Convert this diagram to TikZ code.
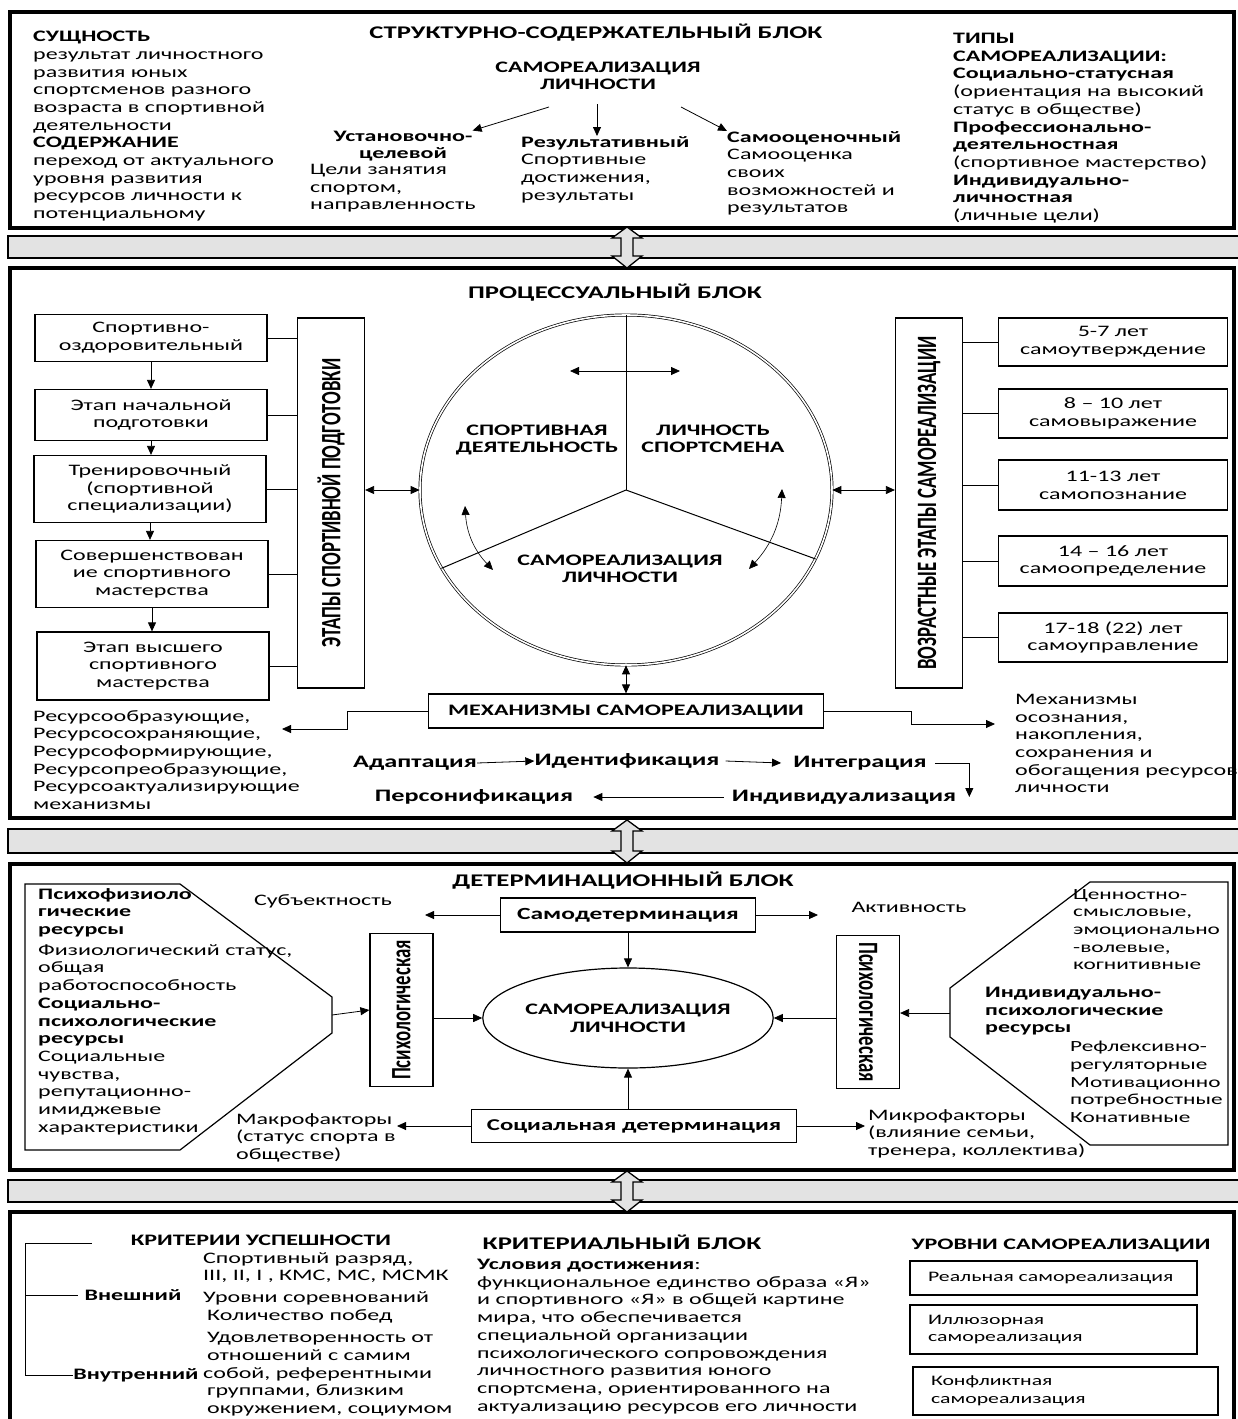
\documentclass[tikz,border=0pt]{standalone}
\usepackage{fontspec}
\setmainfont{Carlito}[FakeStretch=1.5]
\newfontfamily\rotfont{Carlito}[FakeStretch=0.67]
\usetikzlibrary{shapes.geometric,arrows.meta,calc}

\begin{document}
\begin{tikzpicture}
[
    x=1pt, y=-1pt,
    block/.style={draw, line width=3.5pt},
    bar/.style={draw, line width=1.3pt, fill=black!11},
    common/.style={shape=rectangle, draw, line width=1.2pt, align=center, inner sep=0pt, font=\fontsize{16}{17.8}\selectfont},
    upright/.style={common, minimum width=370, minimum height=67, font=\rotfont\fontsize{28}{30}\selectfont\bfseries},
    level/.style={common, align=left, inner xsep=18pt, font=\fontsize{14.5}{17.6}\selectfont},
    plain/.style={align=left, inner sep=0pt, anchor=north west, font=\fontsize{16}{17.7}\selectfont},
    heading/.style={align=center, inner sep=0pt, font=\fontsize{17.8}{17.6}\selectfont\bfseries},
    sub/.style={align=center, inner sep=0pt, font=\fontsize{16}{17.6}\selectfont\bfseries},
    chain/.style={sub, font=\fontsize{17.5}{20}\selectfont\bfseries},
    link/.style={-{Triangle[length=9pt,width=8pt]}, line width=0.8pt},
    both/.style={{Triangle[length=9pt,width=8pt]}-{Triangle[length=9pt,width=8pt]}, line width=0.8pt},
]
\useasboundingbox (0,0) rectangle (1237,1419);

% four blocks
\draw[block] (10,12) rectangle (1234,228);
\draw[block] (10,268) rectangle (1234,818);
\draw[block] (10,864) rectangle (1234,1170);
\draw[block] (10,1212) rectangle (1234,1440);

% structural block
\node[plain] (essence) at (33,31) {\textbf{СУЩНОСТЬ}\\результат личностного\\развития юных\\спортсменов разного\\возраста в спортивной\\деятельности\\\textbf{СОДЕРЖАНИЕ}\\переход от актуального\\уровня развития\\ресурсов личности к\\потенциальному};
\node[heading] (t1) at (596,33) {СТРУКТУРНО-СОДЕРЖАТЕЛЬНЫЙ БЛОК};
\node[sub] (sr1) at (598,76) {САМОРЕАЛИЗАЦИЯ\\ЛИЧНОСТИ};
\node[sub] (goalh) at (403,146) {Установочно-\\целевой};
\node[plain] (goalt) at (310,164) {Цели занятия\\спортом,\\направленность};
\node[plain] (res) at (521,136) {\textbf{Результативный}\\Спортивные\\достижения,\\результаты};
\node[plain] (self) at (727,131) {\textbf{Самооценочный}\\Самооценка\\своих\\возможностей и\\результатов};
\node[plain] (types) at (953,33) {\textbf{ТИПЫ}\\\textbf{САМОРЕАЛИЗАЦИИ:}\\\textbf{Социально-статусная}\\(ориентация на высокий\\статус в обществе)\\\textbf{Профессионально-}\\\textbf{деятельностная}\\(спортивное мастерство)\\\textbf{Индивидуально-}\\\textbf{личностная}\\(личные цели)};
\coordinate (u1) at (549,107);
\coordinate (u2) at (597,104);
\coordinate (u3) at (681,107);
\draw[link] (u1) -- (goalh.north east);
\draw[link] (u2) -- (u2 |- res.north);
\draw[link] (u3) -- (self.north west);

% process block
\node[heading] (t2) at (615,293) {ПРОЦЕССУАЛЬНЫЙ БЛОК};
\node[common, minimum width=232, minimum height=47] (s1) at (151,338) {Спортивно-\\оздоровительный};
\node[common, minimum width=232, minimum height=51] (s2) at (151,415) {Этап начальной\\подготовки};
\node[common, minimum width=232, minimum height=67] (s3) at (150,489) {Тренировочный\\(спортивной\\специализации)};
\node[common, minimum width=232, minimum height=67] (s4) at (152,574) {Совершенствован\\ие спортивного\\мастерства};
\node[common, minimum width=232, minimum height=68] (s5) at (153,666) {Этап высшего\\спортивного\\мастерства};
\node[upright, rotate=90] (prep) at (331,503) {ЭТАПЫ СПОРТИВНОЙ ПОДГОТОВКИ};
\foreach \a/\b in {s1/s2,s2/s3,s3/s4,s4/s5}
    \draw[link] (\a.south) -- (\a.south |- \b.north);
\foreach \a in {s1,s2,s3,s4,s5}
    \draw[line width=0.8pt] (\a.east) -- (\a.east -| prep.north);

\node[draw, ellipse, double, double distance=1.6pt, line width=0.7pt, minimum width=412, minimum height=350] (circ) at (626,490) {};
\draw[line width=1pt] (circ.center) -- (circ.north);
\draw[line width=1pt] (circ.center) -- (circ.203);
\draw[line width=1pt] (circ.center) -- (circ.340);
\node[sub] (sport) at (537,440) {СПОРТИВНАЯ\\ДЕЯТЕЛЬНОСТЬ};
\node[sub] (pers) at (713,439) {ЛИЧНОСТЬ\\СПОРТСМЕНА};
\node[sub] (srl) at (620,569) {САМОРЕАЛИЗАЦИЯ\\ЛИЧНОСТИ};
\coordinate (ct1) at (570,371);
\coordinate (ct2) at (680,371);
\coordinate (cl1) at (465,506);
\coordinate (cl2) at (493,570);
\coordinate (cr1) at (782,489);
\coordinate (cr2) at (749,569);
\draw[both] (ct1) -- (ct2);
\draw[both, line width=0.6pt] (cl1) to[bend right=20] (cl2);
\draw[both, line width=0.6pt] (cr1) to[bend left=20] (cr2);
\draw[both] (prep.south |- circ.west) -- (circ.west);

\node[upright, rotate=90] (ages) at (929,503) {ВОЗРАСТНЫЕ ЭТАПЫ САМОРЕАЛИЗАЦИИ};
\draw[both] (circ.east) -- (circ.east -| ages.north);
\node[common, minimum width=229, minimum height=48] (a1) at (1113,342) {5-7 лет\\самоутверждение};
\node[common, minimum width=229, minimum height=49] (a2) at (1113,413.5) {8 – 10 лет\\самовыражение};
\node[common, minimum width=229, minimum height=50] (a3) at (1113,485) {11-13 лет\\самопознание};
\node[common, minimum width=229, minimum height=50] (a4) at (1113,561) {14 – 16 лет\\самоопределение};
\node[common, minimum width=229, minimum height=49] (a5) at (1113,637.5) {17-18 (22) лет\\самоуправление};
\foreach \a in {a1,a2,a3,a4,a5}
    \draw[line width=0.8pt] (\a.west) -- (\a.west -| ages.south);

\node[common, minimum width=395, minimum height=34, font=\fontsize{16}{18}\selectfont\bfseries] (mech) at (626,711) {МЕХАНИЗМЫ САМОРЕАЛИЗАЦИИ};
\draw[both] (circ.south) -- (mech.north);
\node[plain] (rsrc) at (33,710) {Ресурсообразующие,\\Ресурсосохраняющие,\\Ресурсоформирующие,\\Ресурсопреобразующие,\\Ресурсоактуализирующие\\механизмы};
\node[plain] (mtext) at (1015,694) {Механизмы\\осознания,\\накопления,\\сохранения и\\обогащения ресурсов\\личности};
\coordinate (mleft) at (282,729);
\coordinate (mright) at (995,724);
\draw[link] (mech.west) -- ++(-81,0) |- (mleft);
\draw[link] (mech.east) -- ++(87,0) |- (mright);

\node[chain] (ad) at (415,763) {Адаптация};
\node[chain] (idf) at (627,761) {Идентификация};
\node[chain] (intg) at (860,763) {Интеграция};
\node[chain] (indv) at (844,797) {Индивидуализация};
\node[chain] (prs) at (474,797) {Персонификация};
\draw[link] (ad.east) -- (idf.west);
\draw[link] ([xshift=6pt]idf.east) -- ([xshift=-12pt]intg.west);
\draw[link] ([xshift=8pt]intg.east) -| ([xshift=13pt]indv.east);
\draw[link] ([xshift=-8pt]indv.west) -- ([xshift=20pt]prs.east);

% determination block
\node[heading] (t3) at (623,881) {ДЕТЕРМИНАЦИОННЫЙ БЛОК};
\draw[line width=1.2pt] (25,884) -- (180,884) -- (332,997) -- (332,1033) -- (180,1150) -- (25,1150) -- cycle;
\coordinate (lhex) at (332,1015);
\node[plain] (lres) at (38,888) {\textbf{Психофизиоло}\\\textbf{гические}\\\textbf{ресурсы}\\[3pt]Физиологический статус,\\общая\\работоспособность\\\textbf{Социально-}\\\textbf{психологические}\\\textbf{ресурсы}\\Социальные\\чувства,\\репутационно-\\имиджевые\\характеристики};
\draw[line width=1.2pt] (1090,882) -- (1228,882) -- (1228,1145) -- (1090,1145) -- (950,1037) -- (950,988) -- cycle;
\coordinate (rhex) at (950,1013);
\node[plain, font=\fontsize{15.5}{17.7}\selectfont] (rres1) at (1073,889) {Ценностно-\\смысловые,\\эмоционально\\-волевые,\\когнитивные};
\node[plain] (rres2) at (985,987) {\textbf{Индивидуально-}\\\textbf{психологические}\\\textbf{ресурсы}};
\node[plain, font=\fontsize{15.5}{17.7}\selectfont] (rres3) at (1070,1041) {Рефлексивно-\\регуляторные\\Мотивационно\\потребностные\\Конативные};

\node[upright, rotate=90, minimum width=153, minimum height=63] (psl) at (401.5,1010) {Психологическая};
\node[upright, rotate=-90, minimum width=153, minimum height=63] (psr) at (868,1012) {Психологическая};
\node[draw, ellipse, line width=1.2pt, minimum width=258, minimum height=100, sub] (core) at (628,1018) {САМОРЕАЛИЗАЦИЯ\\ЛИЧНОСТИ};
\node[common, minimum width=255, minimum height=34, font=\fontsize{17}{17.6}\selectfont\bfseries] (sd) at (628,915) {Самодетерминация};
\node[common, minimum width=325, minimum height=33, font=\fontsize{16.5}{17.6}\selectfont\bfseries] (sc) at (634,1126) {Социальная детерминация};
\node[plain, anchor=center] (subj) at (323,901) {Субъектность};
\node[plain, anchor=center] (act) at (909,907) {Активность};
\node[plain] (macro) at (236,1113) {Макрофакторы\\(статус спорта в\\обществе)};
\node[plain] (micro) at (868,1109) {Микрофакторы\\(влияние семьи,\\тренера, коллектива)};
\coordinate (subjtip) at (425,915);
\coordinate (acttip) at (818,915);
\coordinate (macrotip) at (397,1126);
\coordinate (microtip) at (865,1126);
\draw[link] (lhex) -- (psl.north);
\draw[link] (psl.south |- core.west) -- (core.west);
\draw[link] (rhex) -- (rhex -| psr.north);
\draw[link] (psr.south |- core.east) -- (core.east);
\draw[link] (sd.south) -- (sd.south |- core.north);
\draw[link] (sc.north -| core.south) -- (core.south);
\draw[link] (sd.west) -- (subjtip);
\draw[link] (sd.east) -- (acttip);
\draw[link] (sc.west) -- (macrotip);
\draw[link] (sc.east) -- (microtip);

% criterial block
\coordinate (brtop) at (25,1243);
\node[sub] (crit) at (261,1240) {КРИТЕРИИ УСПЕШНОСТИ};
\node[sub] (ext) at (133,1295) {Внешний};
\node[sub] (intl) at (136,1375) {Внутренний};
\draw[line width=0.8pt] (brtop) -- ++(67,0);
\draw[line width=0.8pt] (brtop) |- (intl.west);
\draw[line width=0.8pt] (brtop |- ext.west) -- ([xshift=-6pt]ext.west);
\node[plain] (critl) at (203,1252) {Спортивный разряд,\\III, II, I , КМС, МС, МСМК\\[4pt]Уровни соревнований\\\hspace{4pt}Количество побед\\[5pt]\hspace{4pt}Удовлетворенность от\\\hspace{4pt}отношений с самим\\собой, референтными\\\hspace{4pt}группами, близким\\\hspace{4pt}окружением, социумом};
\node[heading] (t4) at (622,1242) {КРИТЕРИАЛЬНЫЙ БЛОК};
\node[plain] (cond) at (477,1259) {\textbf{Условия достижения}:\\функциональное единство образа «Я»\\и спортивного «Я» в общей картине\\мира, что обеспечивается\\специальной организации\\психологического сопровождения\\личностного развития юного\\спортсмена, ориентированного на\\актуализацию ресурсов его личности};
\node[sub] (lvl) at (1061,1245) {УРОВНИ САМОРЕАЛИЗАЦИИ};
\node[level, text width=251, minimum height=34] (lv1) at (1053.5,1278) {Реальная самореализация};
\node[level, text width=251, minimum height=49] (lv2) at (1053.5,1329.5) {Иллюзорная\\самореализация};
\node[level, text width=269, minimum height=48] (lv3) at (1065.5,1391) {Конфликтная\\самореализация};

% grey links between blocks
\foreach \t/\b in {236/258, 829/853, 1180/1202} {
    \draw[bar] (8,\t) rectangle (1245,\b);
    \draw[bar, line join=miter] (627,{\t-9}) -- (642,{\t+2}) -- (633,{\t+2}) -- (633,{\b-2}) -- (642,{\b-2}) -- (627,{\b+10}) -- (612,{\b-2}) -- (621,{\b-2}) -- (621,{\t+2}) -- (612,{\t+2}) -- cycle;
}
\end{tikzpicture}
\end{document}
